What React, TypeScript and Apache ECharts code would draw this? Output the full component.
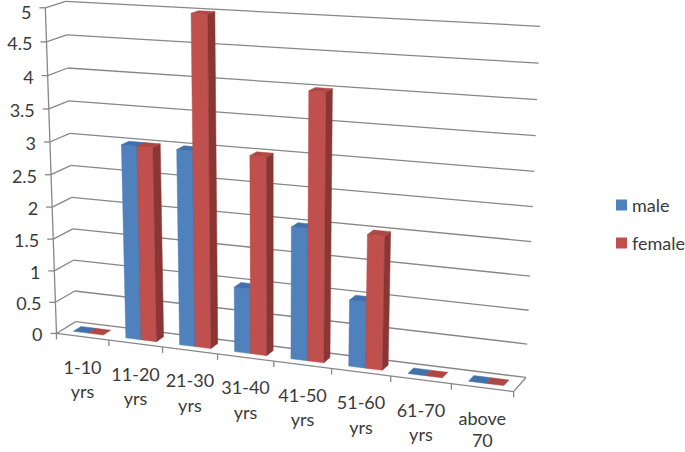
import React, { useEffect, useRef } from 'react';
import * as echarts from 'echarts';

// ---- data ----
const categories = ['1-10 yrs', '11-20 yrs', '21-30 yrs', '31-40 yrs', '41-50 yrs', '51-60 yrs', '61-70 yrs', 'above 70'];
const male = [0, 3, 3, 1, 2, 1, 0, 0];
const female = [0, 3, 5, 3, 4, 2, 0, 0];
const yTicks = [0, 0.5, 1, 1.5, 2, 2.5, 3, 3.5, 4, 4.5, 5];

// ---- look ----
const WIDTH = 685;
const HEIGHT = 452;
const Y_MAX = 5;
const N_CAT = categories.length;
const GAP_WIDTH = 1.5; // gap between clusters, as a fraction of one bar
const BAR_Z0 = 0.3; // bars sit in the middle of the floor depth
const BAR_Z1 = 0.7;
const FONT = 'Lato, "Open Sans", sans-serif';
const FONT_SIZE = 18;
const TEXT = '#3a3a3a';
const GRID = '#878787';
const SHADES = [
  { front: '#4F81BD', side: '#3A6190', top: '#4270AA', flat: '#4270AA' },
  { front: '#C0504D', side: '#8A3634', top: '#AF4744', flat: '#AF4744' },
];

// Screen placement of the plot box (category units, value units, depth 0..1 -> px).
// A projective camera is fitted through these so walls, floor and bars share one perspective.
const FRAME_ANCHORS: number[][] = [
  [0, 0, 0, 57.5, 334],
  [0, 5, 0, 44, 8],
  [0, 3, 0, 50, 142],
  [0, 0, 1, 75, 321],
  [0, 3, 1, 68.5, 133.5],
  [0, 5, 1, 68, 1],
  [8, 0, 1, 526, 378],
  [8, 3, 1, 534, 172],
  [8, 5, 1, 540, 26],
  [2, 0, 0, 163, 347.2],
  [4, 0, 0, 273, 361],
  [6, 0, 0, 391, 375.6],
  [8, 0, 0, 514, 391],
];

type Pt = [number, number];

function makeCamera(anchors: number[][]) {
  const n = 11;
  const M: number[][] = Array.from({ length: n }, () => new Array(n + 1).fill(0));
  const addRow = (r: number[], b: number) => {
    for (let a = 0; a < n; a++) {
      for (let c = 0; c < n; c++) M[a][c] += r[a] * r[c];
      M[a][n] += r[a] * b;
    }
  };
  for (const [X, Y, Z, u, v] of anchors) {
    const x = X / 8, y = Y / 5, z = Z;
    const uu = (u - 300) / 300, vv = (v - 200) / 300;
    addRow([x, y, z, 1, 0, 0, 0, 0, -uu * x, -uu * y, -uu * z], uu);
    addRow([0, 0, 0, 0, x, y, z, 1, -vv * x, -vv * y, -vv * z], vv);
  }
  for (let c = 0; c < n; c++) {
    let p = c;
    for (let r = c + 1; r < n; r++) if (Math.abs(M[r][c]) > Math.abs(M[p][c])) p = r;
    const tmp = M[c]; M[c] = M[p]; M[p] = tmp;
    for (let r = 0; r < n; r++) {
      if (r === c) continue;
      const f = M[r][c] / M[c][c];
      for (let k = c; k <= n; k++) M[r][k] -= f * M[c][k];
    }
  }
  const m = M.map((row, i) => row[n] / row[i]);
  return (X: number, Y: number, Z: number): Pt => {
    const x = X / 8, y = Y / 5, z = Z;
    const w = m[8] * x + m[9] * y + m[10] * z + 1;
    return [
      ((m[0] * x + m[1] * y + m[2] * z + m[3]) / w) * 300 + 300,
      ((m[4] * x + m[5] * y + m[6] * z + m[7]) / w) * 300 + 200,
    ];
  };
}

const project = makeCamera(FRAME_ANCHORS);

// convert a point of the (hidden) cartesian grid to category / value units
function toWorld(cs: any, pt: number[]): Pt {
  return [((pt[0] - cs.x) / cs.width) * N_CAT, ((cs.y + cs.height - pt[1]) / cs.height) * Y_MAX];
}

const line = (a: Pt, b: Pt, w = 1.3) => ({
  type: 'line',
  shape: { x1: a[0], y1: a[1], x2: b[0], y2: b[1] },
  style: { stroke: GRID, lineWidth: w },
});

// single-line label, kept fully inside the canvas
const label = (text: string, x: number, y: number, align: string) => {
  const half = FONT_SIZE * 0.6;
  const cy = Math.min(Math.max(y, half + 1), HEIGHT - half - 1);
  return {
    type: 'text',
    x,
    y: cy,
    style: {
      text,
      fill: TEXT,
      fontFamily: FONT,
      fontSize: FONT_SIZE,
      lineHeight: 16,
      align,
      verticalAlign: 'middle',
    },
  };
};

const barRender = (si: number) => (params: any, api: any) => {
  const cs = params.coordSys;
  const k = api.value(0);
  const v = api.value(1);
  const [xc, yTop] = toWorld(cs, api.coord([k, v]));
  const band = (api.size([1, 0])[0] / cs.width) * N_CAT;
  const w = band / (2 + GAP_WIDTH);
  const x0 = si === 0 ? xc - w : xc;
  const x1 = x0 + w;
  const sh = SHADES[si];
  const face = (pts: number[][], fill: string) => ({
    type: 'polygon',
    shape: { points: pts.map((p) => project(p[0], p[1], p[2])) },
    style: { fill, stroke: fill, lineWidth: 0.5 },
  });
  const children: any[] = [];
  if (yTop > 0.001) {
    children.push(face([[x0, 0, BAR_Z0], [x1, 0, BAR_Z0], [x1, yTop, BAR_Z0], [x0, yTop, BAR_Z0]], sh.front));
    children.push(face([[x1, 0, BAR_Z0], [x1, 0, BAR_Z1], [x1, yTop, BAR_Z1], [x1, yTop, BAR_Z0]], sh.side));
  }
  children.push(
    face([[x0, yTop, BAR_Z0], [x1, yTop, BAR_Z0], [x1, yTop, BAR_Z1], [x0, yTop, BAR_Z1]], yTop > 0.001 ? sh.top : sh.flat)
  );
  return { type: 'group', children };
};

const frameRender = (params: any, api: any) => {
  const cs = params.coordSys;
  const v = api.value(1);
  const [, y] = toWorld(cs, api.coord([0, v]));
  const fl = project(0, y, 0);
  const bl = project(0, y, 1);
  const br = project(N_CAT, y, 1);
  const children: any[] = [
    line(fl, bl),
    line(bl, br),
    line(fl, [fl[0] - 6, fl[1]]),
    label(String(v), fl[0] - 14, fl[1] + 1, 'right'),
  ];
  if (v === 0) {
    children.push(line(project(0, 0, 0), project(N_CAT, 0, 0)));
    children.push(line(project(N_CAT, 0, 0), project(N_CAT, 0, 1)));
    children.push(line(project(0, 0, 0), project(0, Y_MAX, 0)));
  }
  return { type: 'group', children };
};

const categoryRender = (params: any, api: any) => {
  const cs = params.coordSys;
  const k = api.value(0);
  const [xc] = toWorld(cs, api.coord([k, 0]));
  const half = ((api.size([1, 0])[0] / cs.width) * N_CAT) / 2;
  const children: any[] = [];
  const tick = (x: number) => {
    const p = project(x, 0, 0);
    children.push(line(p, [p[0], p[1] + 6]));
  };
  tick(xc - half);
  if (k === N_CAT - 1) tick(xc + half);
  const q = project(xc, 0, 0);
  const lines = categories[k].split(' ');
  lines.forEach((t, i) => children.push(label(t, q[0], q[1] + 30 + i * 24.5, 'center')));
  return { type: 'group', children };
};

export default function App() {
  const ref = useRef<HTMLDivElement>(null);
  useEffect(() => {
    if (!ref.current) return;
    const chart = echarts.init(ref.current, null, { renderer: 'svg' });
    chart.setOption({
      animation: false,
      backgroundColor: '#ffffff',
      grid: { left: 0, top: 0, width: 400, height: 400, show: false },
      xAxis: { type: 'category', data: categories, show: false },
      yAxis: { type: 'value', min: 0, max: Y_MAX, interval: 0.5, show: false },
      legend: {
        data: ['male', 'female'],
        orient: 'vertical',
        left: 611,
        top: 189,
        icon: 'rect',
        itemWidth: 11,
        itemHeight: 11,
        itemGap: 16,
        textStyle: { fontFamily: FONT, fontSize: FONT_SIZE, color: TEXT, lineHeight: 22 },
      },
      series: [
        {
          type: 'custom',
          name: 'frame',
          silent: true,
          z: 1,
          renderItem: frameRender,
          data: yTicks.map((v) => [0, v]),
        },
        {
          type: 'custom',
          name: 'male',
          z: 2,
          itemStyle: { color: SHADES[0].front },
          renderItem: barRender(0),
          data: male.map((v, i) => [i, v]),
        },
        {
          type: 'custom',
          name: 'female',
          z: 2,
          itemStyle: { color: SHADES[1].front },
          renderItem: barRender(1),
          data: female.map((v, i) => [i, v]),
        },
        {
          type: 'custom',
          name: 'axis',
          silent: true,
          z: 3,
          renderItem: categoryRender,
          data: categories.map((_, i) => [i, 0]),
        },
      ],
    });
    return () => chart.dispose();
  }, []);
  return <div ref={ref} style={{ position: 'fixed', left: 0, top: 0, width: WIDTH, height: HEIGHT }} />;
}
